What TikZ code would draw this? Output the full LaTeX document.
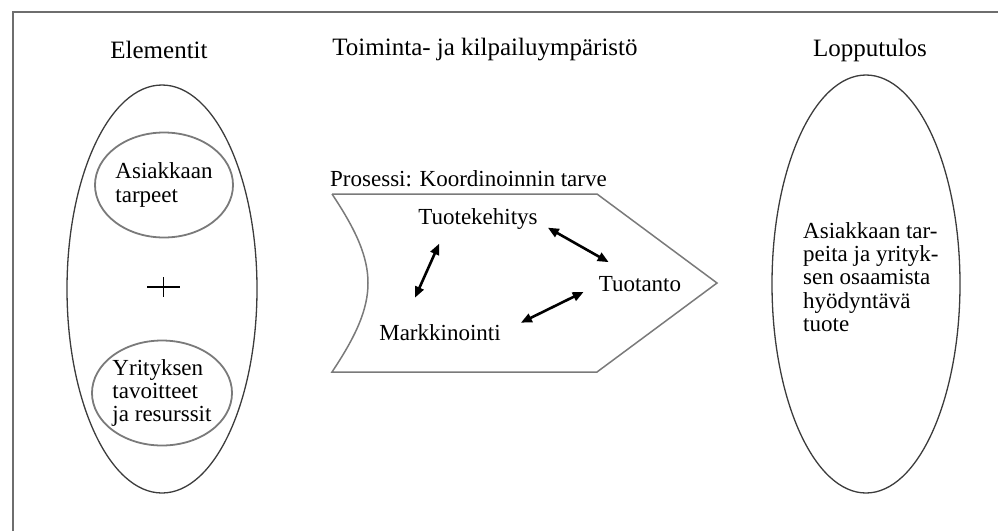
\documentclass[tikz,border=0pt]{standalone}
\usepackage{fontspec}
\setmainfont{Liberation Serif}
\usepackage{tikz}
\usetikzlibrary{arrows.meta,positioning,shapes.geometric}
\definecolor{FRAME}{HTML}{6E6E6E}
\definecolor{RIM}{HTML}{3C3C3C}
\definecolor{SOFT}{HTML}{7A7A7A}

\begin{document}
\begin{tikzpicture}[
  x=1pt, y=-1pt,
  font=\fontsize{23}{23.3}\selectfont,
  head/.style={font=\fontsize{25}{26}\selectfont},
  bigoval/.style={ellipse, draw=RIM, line width=1.3pt, inner sep=0pt},
  smalloval/.style={ellipse, draw=SOFT, line width=1.8pt, minimum width=138pt, minimum height=105pt, inner sep=0pt, align=left},
  word/.style={inner sep=0pt},
  dbl/.style={{Triangle[length=11pt,width=9pt]}-{Triangle[length=11pt,width=9pt]}, line width=2.6pt, black},
]
\useasboundingbox (0,0) rectangle (998,531);

% frame (only the top and left edges are inside the picture)
\draw[FRAME, line width=1.8pt] (13,531) -- (13,12) -- (998,12);

% ===== headers =====
\node[head] (hElem) at (159,50) {Elementit};
\node[head] (hEnv) at (485,50) {Toiminta- ja kilpailuympäristö};
\node[head] (hRes) at (870,50) {Lopputulos};

% ===== left: elements =====
\node[bigoval, minimum width=190pt, minimum height=408pt] (elem) at (162,289) {};
\node[smalloval] (needs) at (164,185) {Asiakkaan\\tarpeet};
\node[smalloval] (goals) at (162,393) {Yrityksen\\tavoitteet\\ja resurssit};
\draw[black, line width=1.4pt] (147,287) -- (180,287) (163.5,277) -- (163.5,297);

% ===== middle: process =====
\draw[SOFT, line width=1.5pt] (332,194) -- (597,194) -- (717,283) -- (597,372) -- (332,372)
  .. controls (380,300) and (380,266) .. (332,194);
\node[word, anchor=base west] (proc) at (330,186) {Prosessi: Koordinoinnin tarve};
\node[word] (tk) at (478,219) {Tuotekehitys};
\node[word] (tt) at (640,284) {Tuotanto};
\node[word] (mk) at (440,333) {Markkinointi};
\draw[dbl] ([xshift=10pt,yshift=2pt]tk.south east) -- ([xshift=10pt,yshift=14pt]tt.north west);
\draw[dbl] ([xshift=21pt,yshift=-14pt]tk.south west) -- ([xshift=-25pt,yshift=27pt]mk.north);
\draw[dbl] ([xshift=20pt,yshift=2pt]mk.north east) -- ([xshift=-15pt]tt.south west);

% ===== right: result =====
\node[bigoval, minimum width=188pt, minimum height=418pt] (res) at (866,284) {};
\node[word, align=left, anchor=west] (restext) at (803,277)
  {Asiakkaan tar-\\peita ja yrityk-\\sen osaamista\\hyödyntävä\\tuote};
\end{tikzpicture}
\end{document}
